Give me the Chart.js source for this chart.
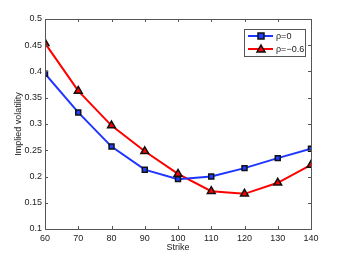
<!DOCTYPE html>
<html>
<head>
<meta charset="utf-8">
<script src="https://cdn.jsdelivr.net/npm/chart.js@4"></script>
<style>
  html, body { margin: 0; padding: 0; background: #fff; }
  #wrap { width: 344px; height: 259px; }
</style>
</head>
<body>
<div id="wrap"><canvas id="volChart" width="344" height="259"></canvas></div>
<script>
// strikes and implied vols
const strikes = [60, 70, 80, 90, 100, 110, 120, 130, 140];
const volRho0 = [0.396, 0.322, 0.257, 0.213, 0.195, 0.200, 0.216, 0.235, 0.253];
const volRhoNeg = [0.454, 0.363, 0.297, 0.248, 0.205, 0.172, 0.167, 0.188, 0.222];
const seriesLabels = ['\u03c1=0', '\u03c1=\u22120.6'];
const xTicks = [60, 70, 80, 90, 100, 110, 120, 130, 140];
const yTicks = [0.1, 0.15, 0.2, 0.25, 0.3, 0.35, 0.4, 0.45, 0.5];

const axisColor = '#555';
const fontFam = '"Liberation Sans", Arial, sans-serif';

// matlab style box with inward ticks on every side
const boxPlugin = {
  id: 'box',
  afterDraw(chart) {
    const c = chart.ctx, a = chart.chartArea;
    const xs = chart.scales.x, ys = chart.scales.y;
    c.save();
    c.strokeStyle = axisColor;
    c.lineWidth = 1;
    c.beginPath();
    xTicks.forEach(t => {
      const px = Math.round(xs.getPixelForValue(t)) + 0.5;
      c.moveTo(px, a.bottom); c.lineTo(px, a.bottom - 3);
      c.moveTo(px, a.top); c.lineTo(px, a.top + 3);
    });
    yTicks.forEach(t => {
      const py = Math.round(ys.getPixelForValue(t)) + 0.5;
      c.moveTo(a.left, py); c.lineTo(a.left + 3, py);
      c.moveTo(a.right, py); c.lineTo(a.right - 3, py);
    });
    c.stroke();
    c.strokeRect(Math.round(a.left) + 0.5, Math.round(a.top) + 0.5,
                 Math.round(a.right - a.left), Math.round(a.bottom - a.top));
    c.restore();
  }
};

// legend box in the upper right corner
const legendPlugin = {
  id: 'boxLegend',
  afterDraw(chart) {
    const c = chart.ctx;
    const bx = 244, by = 29, bw = 61, bh = 27;
    c.save();
    c.fillStyle = '#fff';
    c.fillRect(bx, by, bw, bh);
    c.strokeStyle = axisColor;
    c.lineWidth = 1;
    c.strokeRect(bx + 0.5, by + 0.5, bw, bh);
    chart.data.datasets.forEach((ds, i) => {
      const y = by + 7 + i * 13;
      c.strokeStyle = ds.borderColor;
      c.lineWidth = 2;
      c.beginPath(); c.moveTo(248, y); c.lineTo(273, y); c.stroke();
      c.fillStyle = ds.pointBackgroundColor;
      c.strokeStyle = '#111';
      c.lineWidth = 1.5;
      if (ds.pointStyle === 'rect') {
        c.fillRect(258, y - 3, 6, 6);
        c.strokeRect(258, y - 3, 6, 6);
      } else {
        c.beginPath();
        c.moveTo(261, y - 4); c.lineTo(265, y + 3); c.lineTo(257, y + 3); c.closePath();
        c.fill(); c.stroke();
      }
      c.fillStyle = '#222';
      c.font = '9px ' + fontFam;
      c.textBaseline = 'middle';
      c.fillText(ds.label, 276, y + 0.5);
    });
    c.restore();
  }
};

new Chart('volChart', {
  type: 'line',
  data: {
    datasets: [
      {
        label: seriesLabels[0],
        data: strikes.map((s, i) => ({x: s, y: volRho0[i]})),
        borderColor: '#1f35ff',
        borderWidth: 2,
        pointStyle: 'rect',
        pointRadius: 3.5,
        pointBackgroundColor: '#2040ff',
        pointBorderColor: '#111',
        pointBorderWidth: 1.5,
        fill: false
      },
      {
        label: seriesLabels[1],
        data: strikes.map((s, i) => ({x: s, y: volRhoNeg[i]})),
        borderColor: '#ff0000',
        borderWidth: 2,
        pointStyle: 'triangle',
        pointRadius: 4.5,
        pointBackgroundColor: '#ff0000',
        pointBorderColor: '#111',
        pointBorderWidth: 1.5,
        fill: false
      }
    ]
  },
  options: {
    responsive: false,
    animation: false,
    layout: {padding: {left: 13, right: 33, top: 19, bottom: 6}},
    plugins: {legend: {display: false}, tooltip: {enabled: false}},
    scales: {
      x: {
        type: 'linear',
        min: 60, max: 140,
        afterFit(s) { s.height = 24; },
        afterBuildTicks(s) { s.ticks = xTicks.map(v => ({value: v})); },
        grid: {display: false, drawTicks: false},
        border: {display: false},
        ticks: {color: '#222', font: {size: 9, family: fontFam}, padding: 4, maxRotation: 0},
        title: {display: true, text: 'Strike', color: '#222', font: {size: 9, family: fontFam}, padding: {top: 0, bottom: 0}}
      },
      y: {
        min: 0.1, max: 0.5,
        afterFit(s) { s.width = 32; },
        afterBuildTicks(s) { s.ticks = yTicks.map(v => ({value: v})); },
        grid: {display: false, drawTicks: false},
        border: {display: false},
        ticks: {color: '#222', font: {size: 9, family: fontFam}, padding: 3,
                callback: v => String(Math.round(v * 100) / 100)},
        title: {display: true, text: 'Implied volatility', color: '#222', font: {size: 9, family: fontFam}, padding: {top: 0, bottom: 0}}
      }
    }
  },
  plugins: [boxPlugin, legendPlugin]
});
</script>
</body>
</html>
